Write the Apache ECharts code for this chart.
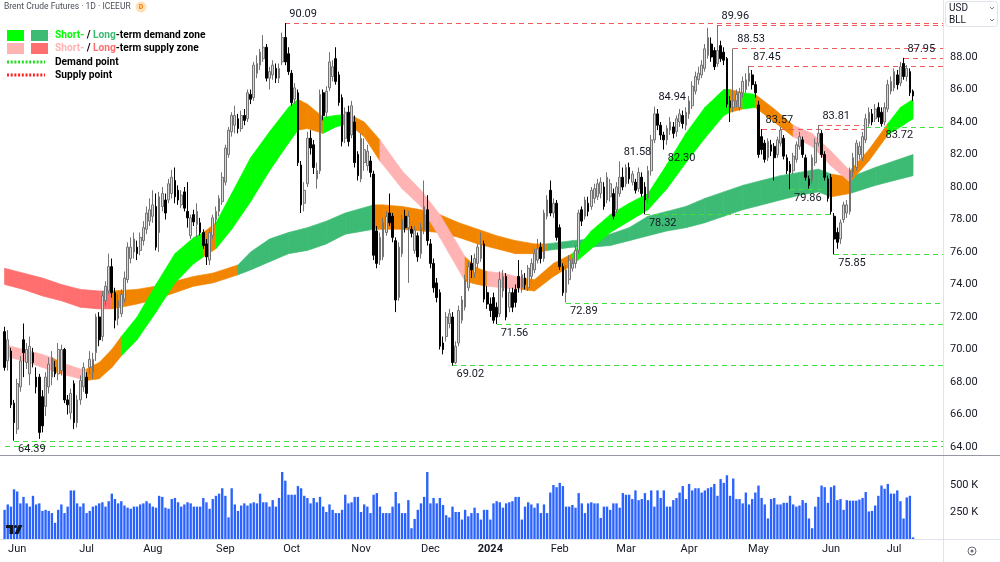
<!DOCTYPE html>
<html><head><meta charset="utf-8">
<script src="https://cdn.jsdelivr.net/npm/echarts@6/dist/echarts.min.js"></script>
<style>html,body{margin:0;padding:0;background:#fff}#c{width:1000px;height:562px}</style>
</head><body><div id="c"></div>
<script>
// ---------- categories ----------
const firstSession = '2023-05-26';
const closedDays = ['2023-12-25','2023-12-26','2024-01-01','2024-03-29'];
const emptySlotsRight = 9;
const monthNames = ['Jan','Feb','Mar','Apr','May','Jun','Jul','Aug','Sep','Oct','Nov','Dec'];
const priceTicks = [64,66,68,70,72,74,76,78,80,82,84,86,88];
const volumeTicks = [250000, 500000];

// ---------- daily candles [open, close, low, high] ----------
// 2023-05-26 .. 2023-07-05
const ohlcA = [
[71.1,68.9,68.7,71.4],[69.3,70.6,68.7,71.2],[69.9,66.6,66.4,70.1],[66.7,65.5,64.39,66.9],[65.1,67.9,64.8,68.2],
[67.7,69.3,67.4,69.6],[70.6,69.8,68.3,71.6],[69.2,70.0,68.8,70.4],[68.5,70.2,67.8,70.8],[69.8,69.2,68.9,70.1],
[68.3,67.7,67.3,68.9],[68.3,64.9,64.5,68.5],[67.1,65.3,64.9,67.5],[66.5,68.3,65.9,68.6],[67.7,69.1,67.3,69.5],
[68.3,69.5,67.8,69.9],[68.9,68.5,68.3,69.3],[68.5,70.0,68.1,70.4],[68.7,70.0,68.4,70.3],[70.0,66.9,66.7,70.1],
[66.9,66.6,66.0,67.2],[66.1,67.3,65.7,67.6],[67.9,65.5,65.1,68.1],[65.5,66.9,65.2,67.2],[66.9,68.1,66.6,68.4],
[67.7,68.9,67.4,69.2],[68.3,67.3,67.0,68.6],[68.9,69.4,68.5,69.9]];
// 2023-07-06 .. 2023-08-15
const ohlcB = [
[68.6,69.4,68.2,69.8],[69.8,72.0,69.3,72.2],[72.0,70.6,70.2,72.3],[70.8,73.3,70.5,73.6],[73.0,73.9,72.7,74.2],
[73.6,75.1,73.4,75.9],[75.1,73.5,73.2,75.6],[73.5,71.8,71.3,73.8],[71.9,73.0,71.5,73.4],[72.2,73.4,72.0,73.7],
[73.1,74.4,72.9,74.8],[74.3,76.3,74.1,76.6],[75.6,76.3,75.3,76.9],[76.0,76.8,75.6,77.2],[76.3,75.9,75.5,76.7],
[76.1,76.9,75.8,77.2],[76.7,77.5,76.4,77.9],[77.4,78.4,77.1,78.8],[77.9,78.6,77.6,79.3],[78.2,78.9,77.8,79.8],
[78.8,76.3,76.1,79.6],[77.2,79.4,76.0,79.7],[78.8,79.6,78.5,80.0],[79.2,78.4,78.0,79.6],[79.2,80.2,79.0,80.5],
[79.6,80.6,79.3,81.05],[80.4,79.4,79.0,81.2],[79.8,79.2,78.9,80.1],[78.9,79.5,78.7,79.8]];
// 2023-08-16 .. 2023-09-26
const ohlcC = [
[79.7,78.7,78.5,80.0],[78.5,78.1,77.5,80.3],[77.0,78.1,76.8,78.3],[78.3,77.85,77.6,78.6],[77.7,78.5,76.9,79.0],
[77.8,77.2,77.0,78.1],[77.2,76.4,76.2,77.4],[76.5,75.7,75.2,76.8],[75.5,77.2,75.2,77.4],[77.0,78.1,76.8,78.3],
[78.0,78.5,77.7,78.8],[78.5,79.3,78.2,79.5],[79.1,80.6,78.9,80.9],[80.3,82.4,80.1,82.6],[82.0,83.5,81.8,83.7],
[83.4,84.4,83.1,84.6],[83.8,84.4,83.3,85.0],[84.2,83.6,83.3,84.5],[83.6,84.4,83.4,84.7],[84.4,84.1,83.8,84.8],
[84.2,85.8,84.0,86.0],[85.7,85.4,85.1,86.0],[85.5,87.5,85.3,87.7],[87.0,87.6,86.7,88.1],[87.5,88.3,87.2,88.5],
[87.9,88.6,87.7,89.35],[88.6,86.7,86.5,88.8],[86.7,87.1,86.0,87.4],[86.9,87.5,86.6,87.8],[87.3,86.7,86.4,87.6]];
// 2023-09-27 .. 2023-11-03
const ohlcD = [
[86.7,87.3,86.4,87.6],[87.7,89.2,87.5,89.5],[89.2,87.7,87.5,90.09],[88.2,87.1,86.9,88.6],[87.0,85.2,85.0,87.2],
[85.4,86.1,85.1,86.4],[85.8,81.5,81.3,86.0],[81.35,78.9,78.4,81.6],[79.0,79.8,78.5,80.3],[80.2,83.0,80.0,83.4],
[83.0,82.4,82.0,83.5],[82.6,81.2,80.8,82.9],[80.5,81.0,79.9,81.5],[81.0,85.7,80.8,86.0],[85.8,84.4,84.1,86.0],
[84.6,85.9,84.3,86.2],[86.1,87.7,85.9,88.3],[86.8,87.4,86.5,87.8],[87.9,86.5,86.3,88.6],[86.9,85.2,85.0,87.1],
[85.5,82.8,82.5,85.7],[83.0,84.6,82.7,84.9],[84.6,82.8,82.5,85.0],[83.2,85.0,83.0,85.3],[84.0,81.5,81.2,84.4],
[82.0,80.7,80.4,82.2],[80.5,83.0,80.3,83.3],[81.5,82.3,81.0,83.0],[81.3,82.2,81.0,82.6]];
// 2023-11-06 .. 2023-12-14
const ohlcE = [
[81.6,80.9,80.6,81.9],[80.8,75.8,75.5,81.0],[77.3,75.3,75.0,77.6],[75.5,76.9,75.2,77.2],[75.7,77.8,75.5,78.1],
[77.2,78.2,77.0,78.5],[78.4,77.8,77.6,79.6],[78.2,76.9,76.6,78.4],[76.7,73.05,72.3,76.9],[73.2,76.3,73.0,76.6],
[75.9,78.0,75.7,78.3],[78.2,77.5,77.2,78.6],[77.5,78.2,74.1,78.5],[77.4,77.15,76.9,77.6],[76.1,77.35,75.9,77.6],
[77.0,75.7,75.4,77.2],[75.9,77.5,75.6,77.8],[77.35,78.8,77.1,80.4],[78.6,76.7,76.4,79.5],[76.5,75.3,75.0,76.8],
[75.3,73.8,73.5,75.6],[74.1,73.2,72.9,74.4],[73.5,70.2,70.0,73.7],[70.4,70.0,69.7,70.8],[70.8,72.0,70.5,72.3],
[71.6,72.2,71.3,72.5],[72.0,69.2,69.02,72.3],[69.2,70.2,69.1,70.5],[70.4,72.4,70.2,72.7]];
// 2023-12-15 .. 2024-01-26
const ohlcF = [
[71.8,73.05,71.6,73.3],[72.6,74.3,72.4,74.6],[73.8,75.1,73.6,75.4],[75.3,74.9,74.4,75.8],[74.7,75.6,74.4,75.9],
[75.3,76.3,75.0,76.5],[75.6,76.5,75.4,77.2],[76.5,73.1,72.9,76.7],[73.5,72.8,72.5,73.9],[72.8,72.4,72.0,73.2],
[73.2,71.8,71.6,73.5],[72.6,72.0,71.56,72.9],[72.2,74.3,72.0,74.8],[73.6,74.5,73.2,74.9],[74.5,72.0,71.8,74.7],
[72.6,73.5,72.3,73.8],[73.5,72.6,72.3,73.8],[73.7,72.9,72.6,74.0],[74.5,73.8,73.5,75.5],[73.8,74.6,73.5,74.9],
[74.4,74.0,73.7,74.7],[73.8,75.0,73.6,75.2],[74.5,75.3,74.3,75.6],[74.9,75.9,74.7,76.2],[75.5,76.2,75.3,76.8],
[76.3,75.6,75.3,76.6],[75.6,78.4,75.4,78.6],[78.2,79.2,78.0,79.5],[79.8,78.4,78.2,80.4]];
// 2024-01-29 .. 2024-03-08
const ohlcG = [
[78.4,79.0,78.1,79.3],[79.0,76.9,76.7,79.2],[77.5,75.1,74.9,77.7],[75.1,73.5,73.3,75.3],[73.5,74.9,72.89,75.2],
[74.3,75.5,74.0,75.8],[75.0,75.3,74.8,75.6],[75.3,76.1,75.0,76.4],[76.1,78.4,75.9,78.6],[78.6,77.9,77.6,78.8],
[78.2,79.2,78.0,79.4],[79.0,78.5,78.2,79.4],[78.8,79.8,78.6,80.0],[79.3,79.9,79.0,80.2],[79.4,80.2,79.2,80.5],
[79.6,80.3,79.3,80.6],[80.0,78.8,78.6,80.3],[79.2,80.6,79.0,80.9],[79.4,80.2,79.1,80.5],[79.6,78.2,78.0,79.9],
[78.6,80.0,78.4,80.3],[79.6,80.6,79.4,81.58],[80.6,80.0,79.8,81.2],[80.2,81.2,80.0,81.4],[81.2,80.5,80.2,81.5],
[80.3,80.8,80.1,81.0],[80.3,79.8,79.6,80.5],[79.9,80.9,79.7,81.2],[80.6,79.6,79.4,80.9]];
// 2024-03-11 .. 2024-04-19
const ohlcH = [
[80.0,79.2,78.32,80.3],[79.3,81.0,79.0,81.3],[81.0,82.9,80.7,83.2],[82.9,84.5,82.7,84.94],[84.5,83.8,83.5,84.8],
[83.8,83.2,82.9,84.0],[83.2,82.9,82.30,83.4],[82.9,83.6,82.6,83.8],[83.5,84.0,83.2,84.3],[83.7,83.3,83.0,84.0],
[83.4,84.2,83.1,84.4],[84.0,84.5,83.7,84.8],[84.4,83.9,83.6,84.7],[83.8,84.6,83.5,84.9],[84.5,85.3,84.2,85.6],
[85.0,86.2,84.8,86.5],[85.9,86.8,85.7,87.1],[86.6,87.0,86.3,87.4],[86.9,87.5,86.7,87.8],[87.3,88.5,87.1,88.8],
[88.1,89.2,87.9,89.8],[88.8,88.0,87.7,89.2],[88.4,87.4,87.2,88.6],[87.6,88.4,87.4,89.96],[88.7,87.9,87.7,89.0],
[88.3,87.8,87.5,88.6],[87.9,85.1,84.9,88.0],[85.3,84.9,84.0,85.6],[84.9,85.3,84.6,88.53]];
// 2024-04-22 .. 2024-05-31
const ohlcI = [
[85.3,85.7,84.9,86.0],[84.9,85.8,84.7,86.1],[85.8,86.5,85.5,86.8],[86.0,86.6,85.8,87.0],[86.5,87.0,86.2,87.45],
[86.9,86.3,86.0,87.2],[86.3,85.8,85.5,86.5],[85.05,82.0,81.8,85.3],[83.1,82.3,82.0,83.57],[82.7,81.7,81.5,82.9],
[81.8,82.8,81.6,83.0],[82.6,82.2,81.9,82.9],[82.5,81.8,80.4,82.7],[82.0,82.9,81.8,83.1],[82.7,83.5,82.5,83.7],
[83.0,81.9,81.7,83.2],[81.8,81.0,80.8,82.0],[81.4,80.9,79.86,81.6],[81.0,81.9,80.8,82.1],[81.7,82.6,81.5,82.8],
[82.5,83.1,82.3,83.4],[82.9,82.0,81.8,83.1],[81.8,80.6,80.4,82.0],[80.5,80.1,79.9,80.7],[80.4,81.8,80.2,82.0],
[81.5,82.7,81.3,83.0],[82.7,83.3,82.5,83.81],[83.3,82.0,81.8,83.5],[82.0,80.6,80.4,82.2],[80.5,79.3,79.1,80.7]];
// 2024-06-03 .. 2024-07-09
const ohlcJ = [
[80.6,78.5,78.3,80.8],[78.2,76.8,75.85,78.4],[77.2,76.6,76.2,77.5],[76.8,77.8,76.5,78.0],[78.0,78.9,77.8,79.1],
[78.4,78.9,78.1,79.2],[78.5,81.0,78.3,81.2],[80.9,81.8,80.6,82.1],[81.2,82.7,81.0,82.9],[82.0,82.5,81.7,82.8],
[81.8,83.1,81.6,83.4],[82.9,84.2,82.7,84.5],[83.9,84.6,83.7,84.9],[84.5,84.0,83.8,84.8],[84.2,84.8,84.0,85.1],
[84.9,84.3,84.0,85.2],[84.6,83.9,83.72,84.9],[84.0,84.9,83.8,85.2],[84.8,86.3,84.6,86.6],[85.9,86.5,85.7,86.8],
[86.1,87.1,85.9,87.3],[86.9,86.3,86.0,87.2],[86.4,87.4,86.2,87.7],[87.6,86.8,86.6,87.95],[86.8,87.3,86.5,87.5],
[87.1,85.8,85.6,87.3],[85.9,85.6,85.3,86.0]];

// ---------- volume (thousands of contracts), same periods ----------
const volA = [270,320,300,460,440,330,390,330,300,400,320,330,260,270,260,240,150,270,320,240,300,450,450,330,300,330,240,260];
const volB = [300,310,330,340,300,350,420,370,330,350,310,290,280,300,300,320,330,350,330,300,290,400,390,290,280,370,380,340,300];
const volC = [320,340,330,300,300,300,380,340,280,370,400,420,470,400,200,470,320,260,310,330,310,330,340,330,420,340,340,300,360,300];
const volD = [380,620,540,410,410,410,490,470,400,380,330,380,340,390,300,250,320,270,240,240,270,410,330,340,390,390,250,320,300];
const volE = [240,410,425,300,240,240,240,300,435,330,240,240,360,100,185,270,330,390,620,330,380,330,380,315,220,200,300,250,250];
const volF = [180,270,210,240,290,240,180,270,270,180,330,350,340,290,330,340,350,390,390,180,300,340,320,290,330,240,320,240,430];
const volG = [500,480,520,490,300,300,315,290,425,330,240,330,340,330,330,195,300,300,270,330,330,290,425,410,410,370,450,360,370];
const volH = [425,360,450,300,450,380,450,300,300,360,380,430,490,370,510,450,470,470,430,450,470,480,510,400,555,520,590,400,560];
const volI = [370,370,330,430,320,370,430,495,380,320,190,370,380,320,320,335,335,400,320,300,310,360,335,190,100,300,390,495,480,335];
const volJ = [480,495,360,370,270,360,355,355,355,365,380,435,255,260,310,400,495,465,510,420,420,450,350,190,385,400,15];

// ---------- short-term zone ribbon (bar index, upper, lower, state P=supply O=neutral G=demand) ----------
const stIdx = [0,6,12,15,18,24,26,30,34,37,42,48,54,60,63,67,72,78,84,90,93,96,101,105,109,114,119,126,132,138,146,150,153,158,164,168,174,180,186,192,198,204,210,216,222,228,230,234,238,244,250,256,262,268,274,280,284,288];
const stHi = [70.3,70.0,69.7,69.5,69.2,68.8,68.8,69.2,70.0,70.8,72.0,74.0,75.9,76.9,77.2,77.8,79.6,81.8,83.4,84.9,85.4,85.1,84.3,84.4,84.5,84.0,82.9,81.0,79.8,78.3,75.7,75.0,74.8,74.7,74.4,74.3,75.3,75.9,77.3,78.3,79.0,79.6,81.4,83.3,84.9,86.0,86.0,85.8,85.7,84.8,83.8,83.3,82.2,81.0,82.3,83.9,84.9,85.4];
const stLo = [69.6,69.3,68.9,68.7,68.5,68.2,68.1,68.2,68.9,69.6,70.6,72.3,74.1,75.3,75.7,76.2,77.4,79.1,81.0,82.7,83.5,83.6,83.3,83.7,83.9,83.1,81.6,79.9,78.8,76.9,74.2,74.0,73.9,73.8,73.7,73.6,74.5,75.2,76.2,77.2,77.9,78.6,79.9,81.5,83.0,84.4,84.6,84.8,84.9,84.0,83.1,82.5,81.3,80.3,81.6,83.2,83.7,84.2];
const stState = 'PPPOPPOOOGGGGGOGGGGGOOGGOOPPPPOOPPOOOGGGGGGGGGOGOOPPPOOGGG'.split('');

// ---------- long-term zone ribbon ----------
const ltIdx = [0,6,12,18,24,30,34,42,48,54,60,66,74,78,84,90,96,102,108,117,120,126,132,138,144,150,156,162,168,172,180,186,192,198,204,210,216,222,228,234,240,246,252,258,262,268,276,282,288];
const ltHi = [75.0,74.7,74.4,74.0,73.7,73.6,73.6,73.7,73.9,74.2,74.5,74.7,75.2,76.0,76.8,77.2,77.5,77.9,78.4,78.9,78.9,78.8,78.6,78.3,77.8,77.4,77.0,76.7,76.5,76.5,76.7,76.8,77.1,77.5,78.2,78.5,78.8,79.3,79.7,80.1,80.4,80.7,80.9,81.1,80.8,80.6,81.2,81.6,82.0];
const ltLo = [74.0,73.7,73.3,73.0,72.6,72.5,72.5,72.8,73.1,73.5,73.9,74.1,74.6,74.9,75.4,75.9,76.1,76.5,77.1,77.4,77.4,77.4,77.3,77.2,76.9,76.5,76.2,75.9,75.9,76.1,76.3,76.3,76.4,76.7,77.0,77.3,77.5,77.8,78.2,78.6,78.9,79.2,79.5,79.7,79.4,79.6,80.1,80.4,80.7];
const ltState = 'RRRRRROOOOOOGGGGGGGOOOOOOOOOOGGGGGGGGGGGGGGGOGGGG'.split('');

// ---------- supply / demand points ----------
const supplyPrice = [90.09, 89.96, 88.53, 87.45, 87.95, 83.57, 83.81, 81.58, 84.94];
const supplyBar   = [89, 226, 231, 236, 285, 240, 258, 195, 206];
const supplyLineTo = [-1, -1, -1, -1, -1, 273, 273, null, null];   // -1: still active, null: removed
const demandPrice = [64.39, 64.06, 69.02, 71.56, 72.89, 78.32, 79.86, 75.85, 83.72, 82.30];
const demandBar   = [3, 0, 142, 156, 178, 203, 249, 263, 278, 209];
const demandLineFrom = [3, 0, 142, 156, 178, 203, 249, 263, 273, 209];
const demandLineTo = [-1, -1, -1, -1, -1, 263, 261, -1, -1, null];
const demandLabelled = [true, false, true, true, true, true, true, true, true, true];

// ---------- build ----------
const candles = [].concat(ohlcA, ohlcB, ohlcC, ohlcD, ohlcE, ohlcF, ohlcG, ohlcH, ohlcI, ohlcJ);
const volumes = [].concat(volA, volB, volC, volD, volE, volF, volG, volH, volI, volJ).map(v => v * 1000);

const dates = [];
(function () {
  const d = new Date(firstSession + 'T12:00:00Z');
  while (dates.length < candles.length) {
    const wd = d.getUTCDay();
    const s = d.toISOString().slice(0, 10);
    if (wd !== 0 && wd !== 6 && closedDays.indexOf(s) < 0) dates.push(s);
    d.setUTCDate(d.getUTCDate() + 1);
  }
})();
const categories = dates.slice();
for (let k = 0; k < emptySlotsRight; k++) categories.push('pad' + k);
const monthStart = categories.map((c, i) => i > 0 && c.length === 10 && c.slice(5, 7) !== categories[i - 1].slice(5, 7));

const FONT = 'Roboto, "Liberation Sans", Arial, sans-serif';
const TXT = '#131722';
const stColors = { P: '#ffb3b3', O: '#f28500', G: '#00ff00' };
const ltColors = { R: '#ff6f6f', O: '#f28500', G: '#3dbb74' };

function ribbon(idx, hi, lo, states, colors) {
  const data = [];
  for (let k = 0; k < idx.length - 1; k++) data.push([idx[k], hi[k], lo[k], idx[k + 1], hi[k + 1], lo[k + 1]]);
  return {
    type: 'custom', xAxisIndex: 0, yAxisIndex: 0, z: 1, silent: true, clip: true,
    encode: { x: [0, 3], y: [1, 2, 4, 5] }, data,
    renderItem(params, api) {
      const a1 = api.coord([api.value(0), api.value(1)]);
      const b1 = api.coord([api.value(3), api.value(4)]);
      const b2 = api.coord([api.value(3), api.value(5)]);
      const a2 = api.coord([api.value(0), api.value(2)]);
      const col = colors[states[params.dataIndex]];
      return { type: 'polygon', shape: { points: [a1, b1, b2, a2] }, style: { fill: col, stroke: col, lineWidth: 0.7 } };
    }
  };
}

const lineData = [];
supplyPrice.forEach((p, k) => { if (supplyLineTo[k] !== null) lineData.push([supplyBar[k], p, supplyLineTo[k], 0]); });
demandPrice.forEach((p, k) => { if (demandLineTo[k] !== null) lineData.push([demandLineFrom[k], p, demandLineTo[k], 1]); });
const labelData = [];
supplyPrice.forEach((p, k) => labelData.push([supplyBar[k], p, 0]));
demandPrice.forEach((p, k) => { if (demandLabelled[k]) labelData.push([demandBar[k], p, 1]); });

const chart = echarts.init(document.getElementById('c'), null, { renderer: 'canvas' });
chart.setOption({
  animation: false,
  backgroundColor: '#ffffff',
  grid: [
    { left: 3, top: 0, width: 940, height: 455 },
    { left: 3, top: 455, width: 940, height: 84 }
  ],
  xAxis: [
    { type: 'category', gridIndex: 0, data: categories, boundaryGap: true, show: false },
    { type: 'category', gridIndex: 1, data: categories, boundaryGap: true,
      axisLine: { show: false }, axisTick: { show: false }, splitLine: { show: false },
      axisLabel: {
        interval: (i) => monthStart[i], margin: 5, color: TXT, fontSize: 11, fontFamily: FONT,
        formatter: (v) => { const m = +v.slice(5, 7); return m === 1 ? '{y|' + v.slice(0, 4) + '}' : monthNames[m - 1]; },
        rich: { y: { fontWeight: 'bold', fontSize: 11, fontFamily: FONT, color: TXT } }
      } }
  ],
  yAxis: [
    { type: 'value', gridIndex: 0, position: 'right', min: 63.508, max: 91.508,
      axisLine: { show: false }, axisTick: { show: false }, splitLine: { show: false },
      axisLabel: { customValues: priceTicks, margin: 7, color: TXT, fontSize: 11, fontFamily: FONT, formatter: (v) => v.toFixed(2) } },
    { type: 'value', gridIndex: 1, position: 'right', min: 0, max: 777800,
      axisLine: { show: false }, axisTick: { show: false }, splitLine: { show: false },
      axisLabel: { customValues: volumeTicks, margin: 7, color: TXT, fontSize: 11, fontFamily: FONT, formatter: (v) => (v / 1000) + ' K' } }
  ],
  series: [
    ribbon(ltIdx, ltHi, ltLo, ltState, ltColors),
    ribbon(stIdx, stHi, stLo, stState, stColors),
    { type: 'custom', xAxisIndex: 0, yAxisIndex: 0, z: 2, silent: true, clip: true,
      encode: { x: 0, y: 1 }, data: lineData,
      renderItem(params, api) {
        const p0 = api.coord([api.value(0), api.value(1)]);
        const to = api.value(2);
        const cs = params.coordSys;
        const x2 = to < 0 ? cs.x + cs.width : api.coord([to, api.value(1)])[0];
        const y = Math.round(p0[1]) + 0.5;
        return { type: 'line', shape: { x1: Math.round(p0[0]), y1: y, x2: Math.round(x2), y2: y },
          style: { stroke: api.value(3) ? '#3fe03f' : '#f25a5a', lineWidth: 1, lineDash: [5, 4] } };
      } },
    { type: 'candlestick', xAxisIndex: 0, yAxisIndex: 0, z: 3, data: candles, barWidth: 2.2, silent: true,
      itemStyle: { color: '#d9d9d9', color0: '#000000', borderColor: '#737373', borderColor0: '#000000', borderWidth: 1 } },
    { type: 'custom', xAxisIndex: 0, yAxisIndex: 0, z: 4, silent: true, clip: false,
      encode: { x: 0, y: 1 }, data: labelData,
      renderItem(params, api) {
        const p = api.coord([api.value(0), api.value(1)]);
        const sup = api.value(2) === 0;
        return { type: 'text', x: p[0] + 4, y: p[1] + (sup ? -9 : 9),
          style: { text: api.value(1).toFixed(2), fill: TXT, fontSize: 11, fontFamily: FONT, align: 'left', verticalAlign: 'middle' } };
      } },
    { type: 'bar', xAxisIndex: 1, yAxisIndex: 1, data: volumes, barWidth: '75%', silent: true,
      itemStyle: { color: '#2962ff' } }
  ],
  graphic: [
    { type: 'line', shape: { x1: 943.5, y1: 0, x2: 943.5, y2: 562 }, style: { stroke: '#e0e3eb', lineWidth: 1 }, z: 10 },
    { type: 'line', shape: { x1: 0, y1: 455.5, x2: 1000, y2: 455.5 }, style: { stroke: '#9598a1', lineWidth: 1.2 }, z: 10 },
    { type: 'line', shape: { x1: 0, y1: 539.5, x2: 1000, y2: 539.5 }, style: { stroke: '#e0e3eb', lineWidth: 1 }, z: 10 },
    { type: 'text', x: 4, y: 7, z: 10, style: { text: 'Brent Crude Futures · 1D · ICEEUR', fill: '#4a4e5a', fontSize: 8.5, fontFamily: FONT, verticalAlign: 'middle' } },
    { type: 'circle', shape: { cx: 141, cy: 7, r: 5.5 }, style: { fill: '#ffe0b8' }, z: 10 },
    { type: 'text', x: 141, y: 7.5, z: 11, style: { text: 'D', fill: '#f57c00', fontSize: 7, fontWeight: 'bold', fontFamily: FONT, align: 'center', verticalAlign: 'middle' } },
    // legend
    { type: 'rect', shape: { x: 7, y: 30, width: 17, height: 11 }, style: { fill: '#00ff00' }, z: 10 },
    { type: 'rect', shape: { x: 31, y: 30, width: 17, height: 11 }, style: { fill: '#3dbb74' }, z: 10 },
    { type: 'rect', shape: { x: 7, y: 43, width: 17, height: 11 }, style: { fill: '#ffb3b3' }, z: 10 },
    { type: 'rect', shape: { x: 31, y: 43, width: 17, height: 11 }, style: { fill: '#ff6f6f' }, z: 10 },
    { type: 'line', shape: { x1: 7, y1: 62, x2: 45, y2: 62 }, style: { stroke: '#22dd22', lineWidth: 3, lineDash: [2, 1.7] }, z: 10 },
    { type: 'line', shape: { x1: 7, y1: 75, x2: 45, y2: 75 }, style: { stroke: '#ff2020', lineWidth: 3, lineDash: [2, 1.7] }, z: 10 },
    { type: 'text', x: 55, y: 35.5, z: 10, style: { text: '{a|Short-} / {b|Long}-term demand zone', fill: '#000', fontSize: 10.2, fontWeight: 'bold', fontFamily: FONT, verticalAlign: 'middle',
        rich: { a: { fill: '#00ff00', fontSize: 10.2, fontWeight: 'bold', fontFamily: FONT }, b: { fill: '#3dbb74', fontSize: 10.2, fontWeight: 'bold', fontFamily: FONT } } } },
    { type: 'text', x: 55, y: 48.5, z: 10, style: { text: '{a|Short-} / {b|Long}-term supply zone', fill: '#000', fontSize: 10.2, fontWeight: 'bold', fontFamily: FONT, verticalAlign: 'middle',
        rich: { a: { fill: '#ffb3b3', fontSize: 10.2, fontWeight: 'bold', fontFamily: FONT }, b: { fill: '#ff6f6f', fontSize: 10.2, fontWeight: 'bold', fontFamily: FONT } } } },
    { type: 'text', x: 55, y: 62, z: 10, style: { text: 'Demand point', fill: '#000', fontSize: 10.2, fontWeight: 'bold', fontFamily: FONT, verticalAlign: 'middle' } },
    { type: 'text', x: 55, y: 75, z: 10, style: { text: 'Supply point', fill: '#000', fontSize: 10.2, fontWeight: 'bold', fontFamily: FONT, verticalAlign: 'middle' } },
    // currency / unit box
    { type: 'rect', shape: { x: 945.5, y: 1.5, width: 52, height: 25, r: 3 }, style: { fill: '#fff', stroke: '#e0e3eb', lineWidth: 1 }, z: 10 },
    { type: 'text', x: 949, y: 8, z: 11, style: { text: 'USD', fill: TXT, fontSize: 10, fontFamily: FONT, verticalAlign: 'middle' } },
    { type: 'text', x: 949, y: 20, z: 11, style: { text: 'BLL', fill: TXT, fontSize: 10, fontFamily: FONT, verticalAlign: 'middle' } },
    { type: 'polyline', shape: { points: [[990, 7], [992, 9], [994, 7]] }, style: { stroke: '#787b86', lineWidth: 1, fill: null }, z: 11 },
    { type: 'polyline', shape: { points: [[990, 19], [992, 21], [994, 19]] }, style: { stroke: '#787b86', lineWidth: 1, fill: null }, z: 11 },
    // settings icon
    { type: 'circle', shape: { cx: 972, cy: 551, r: 4 }, style: { fill: null, stroke: '#6a6d78', lineWidth: 1 }, z: 10 },
    { type: 'circle', shape: { cx: 972, cy: 551, r: 1.5 }, style: { fill: '#6a6d78' }, z: 10 },
    // logo
    { type: 'rect', shape: { x: 6, y: 525, width: 7, height: 3 }, style: { fill: TXT }, z: 10 },
    { type: 'rect', shape: { x: 9.5, y: 525, width: 3.5, height: 9 }, style: { fill: TXT }, z: 10 },
    { type: 'circle', shape: { cx: 15.5, cy: 526.5, r: 1.6 }, style: { fill: TXT }, z: 10 },
    { type: 'polygon', shape: { points: [[18.5, 525], [22.5, 525], [18.5, 534], [14.5, 534]] }, style: { fill: TXT }, z: 10 }
  ]
});
</script>
</body></html>
